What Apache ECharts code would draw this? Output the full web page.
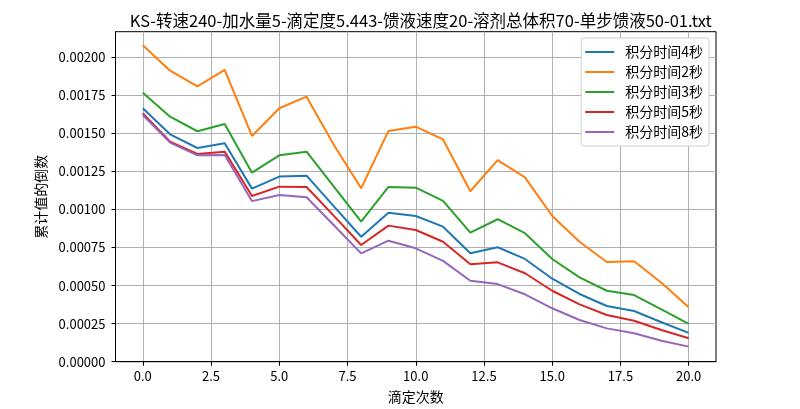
<!DOCTYPE html>
<html>
<head>
<meta charset="utf-8">
<script src="https://cdn.jsdelivr.net/npm/echarts@6/dist/echarts.min.js"></script>
<style>html,body{margin:0;padding:0;background:#fff}#c{width:800px;height:409px}</style>
</head>
<body>
<div id="c"></div>
<script>
const titleText = 'KS-转速240-加水量5-滴定度5.443-馈液速度20-溶剂总体积70-单步馈液50-01.txt';
const xName = '滴定次数';
const yName = '累计值的倒数';
const seriesNames = ['积分时间4秒', '积分时间2秒', '积分时间3秒', '积分时间5秒', '积分时间8秒'];
const steps = [0,1,2,3,4,5,6,7,8,9,10,11,12,13,14,15,16,17,18,19,20];
const s4 = [0.001665,0.001494,0.001404,0.001435,0.001137,0.001216,0.001222,0.001020,0.000821,0.000979,0.000957,0.000887,0.000712,0.000752,0.000675,0.000545,0.000445,0.000366,0.000333,0.000259,0.000189];
const s2 = [0.002079,0.001912,0.001809,0.001917,0.001483,0.001665,0.001741,0.001424,0.001139,0.001516,0.001544,0.001460,0.001120,0.001324,0.001211,0.000957,0.000788,0.000655,0.000660,0.000519,0.000357];
const s3 = [0.001767,0.001610,0.001514,0.001562,0.001242,0.001356,0.001380,0.001150,0.000921,0.001148,0.001143,0.001056,0.000848,0.000936,0.000844,0.000675,0.000554,0.000466,0.000438,0.000344,0.000248];
const s5 = [0.001632,0.001445,0.001365,0.001380,0.001089,0.001150,0.001148,0.000958,0.000767,0.000894,0.000865,0.000788,0.000640,0.000653,0.000581,0.000466,0.000377,0.000307,0.000269,0.000208,0.000154];
const s8 = [0.001621,0.001439,0.001356,0.001358,0.001055,0.001095,0.001080,0.000896,0.000712,0.000795,0.000745,0.000662,0.000532,0.000510,0.000443,0.000351,0.000274,0.000219,0.000187,0.000138,0.000099];
const xTicks = [0, 2.5, 5, 7.5, 10, 12.5, 15, 17.5, 20];
const yTicks = [0, 0.00025, 0.0005, 0.00075, 0.001, 0.00125, 0.0015, 0.00175, 0.002];
const colors = ['#1f77b4', '#ff7f0e', '#2ca02c', '#d62728', '#9467bd'];
const allSeries = [s4, s2, s3, s5, s8];

const font = '"Noto Sans CJK SC", sans-serif';
const chart = echarts.init(document.getElementById('c'));
chart.setOption({
  animation: false,
  backgroundColor: '#fff',
  title: {
    text: titleText, left: 415.7, top: 7, textAlign: 'center',
    textStyle: {fontFamily: font, fontSize: 16.5, fontWeight: 'normal', color: '#000'}
  },
  grid: {left: 115.5, right: 84, top: 31.7, bottom: 47.3, show: true, borderColor: '#000', borderWidth: 1, backgroundColor: 'transparent'},
  legend: {
    right: 91, top: 38, orient: 'vertical',
    backgroundColor: '#fff', borderColor: '#d0d0d0', borderWidth: 1, borderRadius: 3,
    padding: [7, 6, 7, 4], itemGap: 6, itemWidth: 29, itemHeight: 2, icon: 'rect',
    textStyle: {fontFamily: font, fontSize: 14, color: '#000', lineHeight: 14, padding: [0, 0, 0, 6]},
    data: seriesNames
  },
  xAxis: {
    type: 'value', min: -1, max: 21,
    name: xName, nameLocation: 'middle', nameGap: 28,
    nameTextStyle: {fontFamily: font, fontSize: 14, color: '#000'},
    axisLine: {show: true, onZero: false, lineStyle: {color: '#000', width: 1}},
    axisTick: {show: true, length: 4, customValues: xTicks, lineStyle: {color: '#000'}},
    axisLabel: {customValues: xTicks, fontFamily: font, fontSize: 13, color: '#000', margin: 8, formatter: v => v.toFixed(1)},
    splitLine: {show: true, lineStyle: {color: '#b0b0b0', width: 1}}
  },
  yAxis: {
    type: 'value', min: 0, max: 0.002168,
    name: yName, nameLocation: 'middle', nameGap: 64, nameRotate: 90,
    nameTextStyle: {fontFamily: font, fontSize: 14, color: '#000'},
    axisLine: {show: true, onZero: false, lineStyle: {color: '#000', width: 1}},
    axisTick: {show: true, length: 4, customValues: yTicks, lineStyle: {color: '#000'}},
    axisLabel: {customValues: yTicks, fontFamily: font, fontSize: 13, color: '#000', margin: 10, formatter: v => v.toFixed(5)},
    splitLine: {show: true, lineStyle: {color: '#b0b0b0', width: 1}}
  },
  series: seriesNames.map((n, i) => ({
    name: n, type: 'line', showSymbol: false, symbol: 'none',
    lineStyle: {color: colors[i], width: 2}, itemStyle: {color: colors[i]},
    data: steps.map((x, j) => [x, allSeries[i][j]])
  }))
});
</script>
</body>
</html>
